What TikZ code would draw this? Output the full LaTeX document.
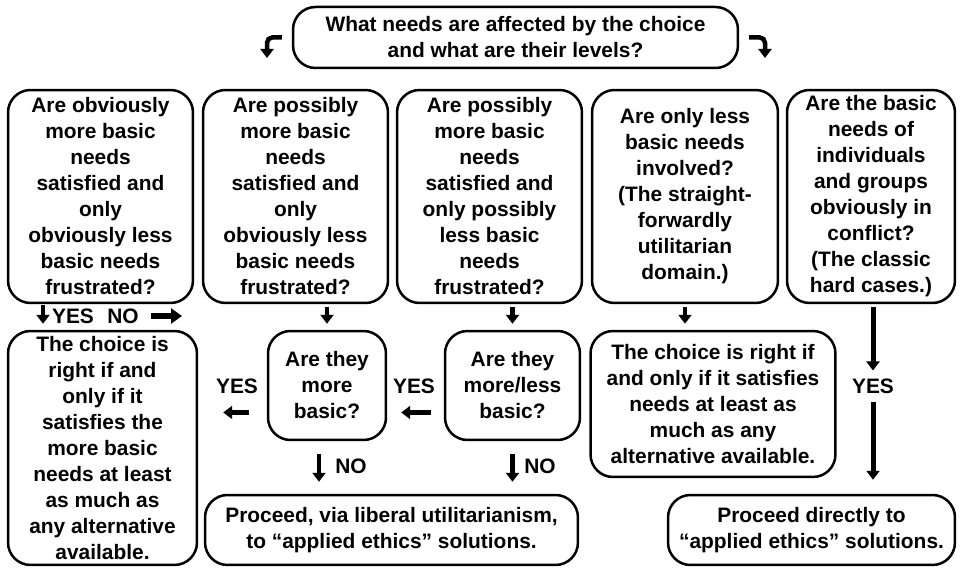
\documentclass[tikz,border=0pt]{standalone}
\usepackage{fontspec}
\setmainfont{Liberation Sans}
\usetikzlibrary{arrows.meta}

\begin{document}
\begin{tikzpicture}[x=0.02cm,y=-0.02cm,
    bx/.style={draw=black,line width=0.05cm,rounded corners=0.45cm,fill=white,
      align=center,inner sep=0pt,font=\bfseries\fontsize{11.9}{14.8}\selectfont},
    lb/.style={inner sep=1pt,font=\bfseries\fontsize{11.9}{14.8}\selectfont},
    ar/.style={line width=0.09cm,-{Triangle[width=0.26cm,length=0.18cm]}}]
  \useasboundingbox (0,0) rectangle (961,570);
  % question at the top
  \node(top)[bx,minimum width=8.9cm,minimum height=1.22cm] at (515.5,37.5)
    {What needs are affected by the choice\\and what are their levels?};
  \coordinate(tl) at (267,58);
  \coordinate(tr) at (765,58);
  \draw[ar,rounded corners=3pt,shorten <=0.2cm] (top.west) -| (tl);
  \draw[ar,rounded corners=3pt,shorten <=0.2cm] (top.east) -| (tr);
  % first row
  \node(b1)[bx,minimum width=3.7cm,minimum height=4.26cm] at (100.5,196.5)
    {Are obviously\\more basic\\needs\\satisfied and\\only\\obviously less\\basic needs\\frustrated?};
  \node(b2)[bx,minimum width=3.7cm,minimum height=4.26cm] at (295.5,196.5)
    {Are possibly\\more basic\\needs\\satisfied and\\only\\obviously less\\basic needs\\frustrated?};
  \node(b3)[bx,minimum width=3.7cm,minimum height=4.26cm] at (489.5,196.5)
    {Are possibly\\more basic\\needs\\satisfied and\\only possibly\\less basic\\needs\\frustrated?};
  \node(b4)[bx,minimum width=3.72cm,minimum height=4.26cm] at (685,196.5)
    {Are only less\\basic needs\\involved?\\(The straight-\\forwardly\\utilitarian\\domain.)};
  \node(b5)[bx,minimum width=3.36cm,minimum height=4.26cm] at (871,196.5)
    {Are the basic\\needs of\\individuals\\and groups\\obviously in\\conflict?\\(The classic\\hard cases.)};
  % second row
  \node(r1)[bx,minimum width=3.78cm,minimum height=4.68cm] at (102.5,448)
    {The choice is\\right if and\\only if it\\satisfies the\\more basic\\needs at least\\as much as\\any alternative\\available.};
  \node(q1)[bx,minimum width=2.36cm,minimum height=2.18cm] at (327,385.5)
    {Are they\\more\\basic?};
  \node(q2)[bx,minimum width=2.7cm,minimum height=2.18cm] at (512.5,385.5)
    {Are they\\more/less\\basic?};
  \node(r2)[bx,minimum width=4.9cm,minimum height=2.92cm] at (713,404)
    {The choice is right if\\and only if it satisfies\\needs at least as\\much as any\\alternative available.};
  \node(p1)[bx,minimum width=7.46cm,minimum height=1.4cm] at (391.5,530)
    {Proceed, via liberal utilitarianism,\\to “applied ethics” solutions.};
  \node(p2)[bx,minimum width=5.74cm,minimum height=1.4cm] at (811.5,530)
    {Proceed directly to\\“applied ethics” solutions.};
  % answers
  \node(yes1)[lb] at (73,316) {YES};
  \node(no1)[lb] at (123,316) {NO};
  \coordinate(d1) at (43,316);
  \coordinate(n1) at (182,316);
  \draw[ar,shorten <=0.02cm,shorten >=0.12cm] (b1.south -| d1) -- (r1.north -| d1);
  \draw[ar,line width=0.12cm,-{Triangle[width=0.3cm,length=0.22cm]},shorten <=0.2cm] (no1.east) -- (n1);
  \draw[ar,shorten <=0.06cm,shorten >=0.12cm] (b2.south -| q1) -- (q1.north);
  \draw[ar,shorten <=0.06cm,shorten >=0.12cm] (b3.south -| q2) -- (q2.north);
  \draw[ar,shorten <=0.06cm,shorten >=0.12cm] (b4.south) -- (b4.south |- r2.north);
  \node(yes2)[lb] at (237,386) {YES};
  \node(yes3)[lb] at (414,386) {YES};
  \draw[ar,shorten <=0.36cm,shorten >=0.5cm] ([yshift=-0.54cm]q1.west) -- ([yshift=-0.54cm]q1.west -| r1.east);
  \draw[ar,shorten <=0.26cm,shorten >=0.28cm] ([yshift=-0.54cm]q2.west) -- ([yshift=-0.54cm]q2.west -| q1.east);
  \node(no2)[lb] at (351,466) {NO};
  \node(no3)[lb] at (540,466) {NO};
  \draw[ar,shorten <=0.26cm,shorten >=0.24cm] ([xshift=-0.16cm]q1.south) -- ([xshift=-0.16cm]q1.south |- p1.north);
  \draw[ar,shorten <=0.26cm,shorten >=0.24cm] (q2.south) -- (q2.south |- p1.north);
  \node(yes4)[lb] at (873,386) {YES};
  \draw[ar,line width=0.1cm,shorten <=0.06cm,shorten >=0.12cm] (b5.south -| yes4) -- (yes4.north);
  \draw[ar,line width=0.1cm,shorten <=0.12cm,shorten >=0.28cm] (yes4.south) -- (yes4.south |- p2.north);
\end{tikzpicture}
\end{document}
